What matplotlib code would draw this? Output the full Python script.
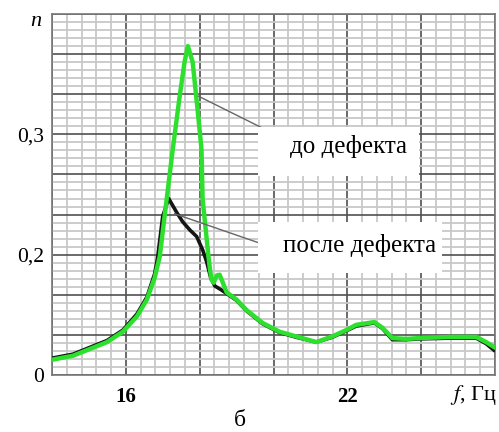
import matplotlib.pyplot as plt
from matplotlib.patches import Rectangle
from matplotlib.ticker import MultipleLocator

plt.rcParams['font.family'] = ['Liberation Serif', 'DejaVu Serif']
plt.rcParams['mathtext.fontset'] = 'stix'

# curve "до дефекта" (green)
freq_before = [14.00, 14.57, 15.11, 15.49, 15.92, 16.30, 16.57, 16.78, 16.92, 17.05,
               17.27, 17.46, 17.59, 17.68, 17.81, 17.95, 18.05, 18.08, 18.22, 18.27,
               18.32, 18.38, 18.46, 18.54, 18.62, 18.73, 19.00, 19.27, 19.70, 20.16,
               20.62, 21.16, 21.59, 21.97, 22.24, 22.73, 22.95, 23.22, 23.59, 23.95,
               24.84, 25.49, 25.76, 25.97]
n_before = [0.019, 0.024, 0.034, 0.041, 0.054, 0.073, 0.094, 0.121, 0.148, 0.198,
            0.281, 0.348, 0.390, 0.410, 0.390, 0.328, 0.281, 0.219, 0.156, 0.135,
            0.119, 0.115, 0.124, 0.125, 0.116, 0.103, 0.094, 0.081, 0.065, 0.054,
            0.048, 0.041, 0.048, 0.056, 0.0625, 0.066, 0.059, 0.046, 0.045, 0.046,
            0.0475, 0.0475, 0.041, 0.035]

# curve "после дефекта" (black)
freq_after = [14.00, 14.57, 15.11, 15.49, 15.92, 16.30, 16.57, 16.78, 16.86, 17.00,
              17.16, 17.38, 17.54, 17.73, 17.92, 18.08, 18.19, 18.30, 18.41, 18.59,
              18.81, 19.00, 19.27, 19.70, 20.16, 20.62, 21.16, 21.59, 21.97, 22.24,
              22.73, 22.95, 23.22, 23.59, 23.95, 24.84, 25.49, 25.76, 25.97]
n_after = [0.021, 0.026, 0.036, 0.043, 0.056, 0.076, 0.097, 0.126, 0.146, 0.198,
           0.220, 0.2025, 0.191, 0.181, 0.1725, 0.156, 0.141, 0.121, 0.111, 0.106,
           0.099, 0.093, 0.080, 0.064, 0.053, 0.047, 0.041, 0.047, 0.055, 0.061,
           0.065, 0.058, 0.044, 0.044, 0.045, 0.046, 0.046, 0.039, 0.031]

x_ticks = [14, 16, 18, 20, 22, 24, 26]
x_tick_labels = ['', '16', '', '', '22', '', '']
y_ticks = [0, 0.05, 0.10, 0.15, 0.20, 0.25, 0.30, 0.35, 0.40, 0.45]
y_tick_labels = ['0', '', '', '0,2', '', '', '0,3', '', '', '']

fig = plt.figure(figsize=(4.99, 4.32), dpi=100)
ax = fig.add_axes([52 / 499, 57 / 432, 443 / 499, 361 / 432])

ax.set_xlim(14, 26)
ax.set_ylim(0, 0.45)
ax.set_xticks(x_ticks)
ax.set_xticklabels(x_tick_labels, fontsize=15, fontweight='bold')
ax.set_yticks(y_ticks)
ax.set_yticklabels(y_tick_labels, fontsize=15.5)
ax.xaxis.set_minor_locator(MultipleLocator(0.4))
ax.yaxis.set_minor_locator(MultipleLocator(0.01))
ax.tick_params(which='both', length=0)
ax.tick_params(axis='x', pad=9)
ax.tick_params(axis='y', pad=6)

ax.grid(which='minor', color='#c8c8c8', lw=1.3)
ax.grid(which='major', color='#505050', lw=1.2)
ax.set_axisbelow(True)
for s in ax.spines.values():
    s.set_color('#777777')
    s.set_linewidth(1.2)

ax.plot(freq_after, n_after, color='#151515', lw=2.6, zorder=3)
ax.plot(freq_before, n_before, color='#2ee02e', lw=3.2, zorder=4)

# leader lines and label boxes
ax.plot([17.97, 19.65], [0.3475, 0.309], color='#666666', lw=1.0, zorder=5)
ax.plot([17.32, 19.65], [0.201, 0.164], color='#666666', lw=1.0, zorder=5)
ax.add_patch(Rectangle((19.57, 0.2475), 4.38, 0.0615, facecolor='white',
                       edgecolor='none', zorder=6))
ax.add_patch(Rectangle((19.57, 0.1275), 5.0, 0.0635, facecolor='white',
                       edgecolor='none', zorder=6))
ax.text(22.03, 0.285, 'до дефекта', fontsize=18, ha='center', va='center', zorder=7)
ax.text(22.32, 0.161, 'после дефекта', fontsize=18, ha='center', va='center', zorder=7)

fig.text(36 / 499, 1 - 21 / 432, 'n', fontsize=16, style='italic', ha='center', va='center')
fig.text(497 / 499, 1 - 395 / 432, '$f$, Гц', fontsize=16, ha='right', va='center')
fig.text(240 / 499, 1 - 421 / 432, 'б', fontsize=17, ha='center', va='center')

fig.savefig('out.png', dpi=100)
